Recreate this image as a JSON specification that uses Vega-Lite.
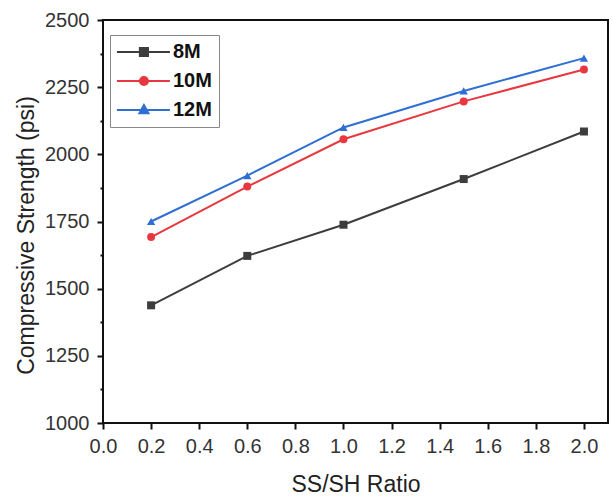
{
  "$schema": "https://vega.github.io/schema/vega-lite/v6.json",
  "width": 505,
  "height": 403,
  "autosize": {"type": "none"},
  "padding": {"left": 103, "top": 20, "right": 4, "bottom": 76},
  "background": "white",
  "config": {
    "font": "Liberation Sans",
    "view": {"stroke": "#111", "strokeWidth": 2},
    "axis": {"grid": false, "domain": false, "labelFlush": false, "tickColor": "#111", "tickWidth": 2, "labelColor": "#333", "labelFontSize": 20, "titleFontSize": 23, "titleFontWeight": "normal", "titleColor": "#222"}
  },
  "data": {"values": [
    {"ratio": 0.2, "strength": 1438, "series": "8M"},
    {"ratio": 0.6, "strength": 1622, "series": "8M"},
    {"ratio": 1.0, "strength": 1738, "series": "8M"},
    {"ratio": 1.5, "strength": 1908, "series": "8M"},
    {"ratio": 2.0, "strength": 2085, "series": "8M"},
    {"ratio": 0.2, "strength": 1692, "series": "10M"},
    {"ratio": 0.6, "strength": 1880, "series": "10M"},
    {"ratio": 1.0, "strength": 2056, "series": "10M"},
    {"ratio": 1.5, "strength": 2197, "series": "10M"},
    {"ratio": 2.0, "strength": 2316, "series": "10M"},
    {"ratio": 0.2, "strength": 1750, "series": "12M"},
    {"ratio": 0.6, "strength": 1921, "series": "12M"},
    {"ratio": 1.0, "strength": 2100, "series": "12M"},
    {"ratio": 1.5, "strength": 2236, "series": "12M"},
    {"ratio": 2.0, "strength": 2358, "series": "12M"}
  ]},
  "encoding": {
    "x": {"field": "ratio", "type": "quantitative", "scale": {"domain": [0, 2.1], "nice": false, "zero": false},
      "axis": {"values": [0, 0.2, 0.4, 0.6, 0.8, 1.0, 1.2, 1.4, 1.6, 1.8, 2.0], "format": ".1f", "tickSize": 6, "labelPadding": 7, "title": "SS/SH Ratio", "titlePadding": 17}},
    "y": {"field": "strength", "type": "quantitative", "scale": {"domain": [1000, 2500], "nice": false, "zero": false}, "axis": null},
    "color": {"field": "series", "type": "nominal", "scale": {"domain": ["8M", "10M", "12M"], "range": ["#3d3d3d", "#e8383f", "#2f6fd4"]},
      "legend": {
        "title": null, "orient": "none", "legendX": 7, "legendY": 15,
        "strokeColor": "#888", "padding": 7, "fillColor": "white",
        "symbolSize": 324, "symbolStrokeWidth": 2, "symbolOpacity": 1,
        "labelFontSize": 20, "labelFontWeight": "bold", "labelColor": "#111", "labelOffset": 36, "rowPadding": 9,
        "encode": {"symbols": {"update": {"fill": {"signal": "scale('color', datum.value)"}}}}
      }}
  },
  "layer": [
    {
      "mark": {"type": "line", "strokeWidth": 2},
      "encoding": {
        "y": {"field": "strength", "type": "quantitative", "axis": {"orient": "left", "values": [1000, 1250, 1500, 1750, 2000, 2250, 2500], "format": "d", "tickSize": 6, "labelPadding": 8, "title": "Compressive Strength (psi)", "titlePadding": 6, "titleY": 215}}
      }
    },
    {
      "transform": [{"filter": "datum.series === '8M'"}],
      "mark": {"type": "point", "filled": true, "opacity": 1, "size": 64, "shape": "square"},
      "encoding": {
        "y": {"field": "strength", "type": "quantitative", "axis": {"orient": "left", "values": [1125, 1375, 1625, 1875, 2125, 2375], "tickSize": 3, "labels": false, "title": null}}
      }
    },
    {
      "transform": [{"filter": "datum.series === '10M'"}],
      "mark": {"type": "point", "filled": true, "opacity": 1, "size": 64, "shape": "circle"}
    },
    {
      "transform": [{"filter": "datum.series === '12M'"}],
      "mark": {"type": "point", "filled": true, "opacity": 1, "size": 70, "shape": "triangle-up"}
    },
    {
      "mark": {"type": "point", "filled": true, "opacity": 1, "size": 0},
      "encoding": {
        "shape": {"field": "series", "type": "nominal", "scale": {"domain": ["8M", "10M", "12M"], "range": ["M-1.12,0H4.77M1.43,-0.45H2.33V0.45H1.43Z", "M-1.12,0H4.77M1.43,0A0.45,0.45 0 1,0 2.33,0A0.45,0.45 0 1,0 1.43,0Z", "M-1.12,0H4.77M1.88,-0.55L2.38,0.35H1.38Z"]}}
      }
    }
  ],
  "resolve": {"axis": {"y": "independent"}}
}
